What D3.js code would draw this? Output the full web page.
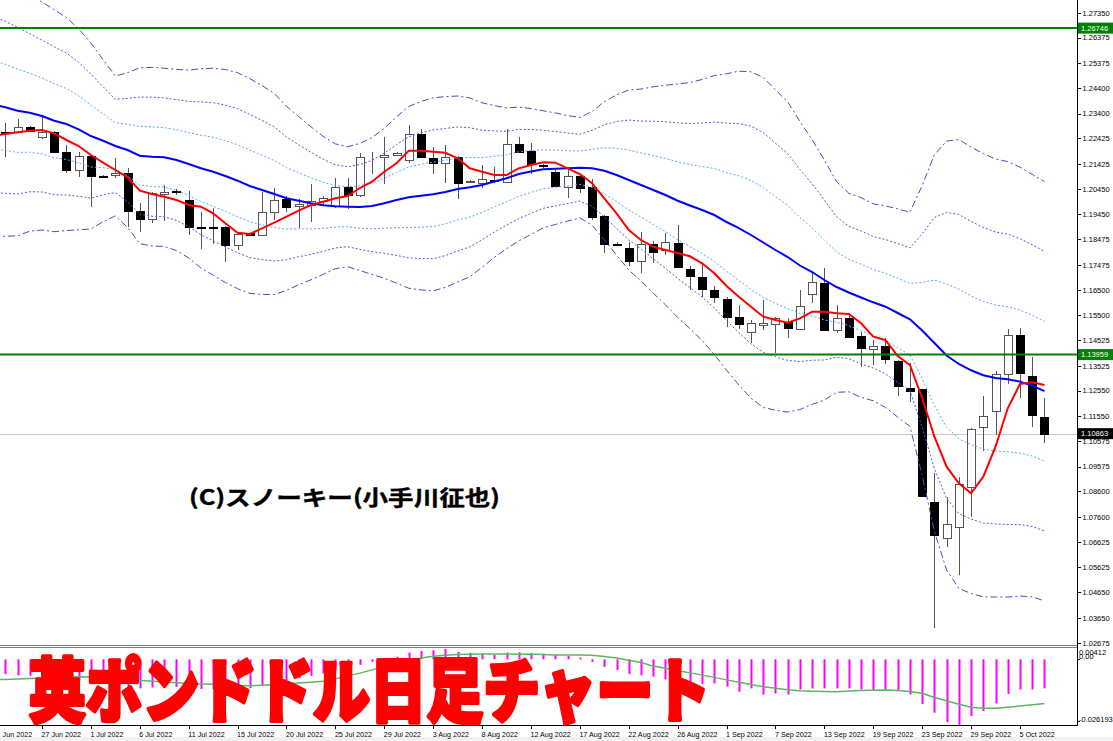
<!DOCTYPE html>
<html><head><meta charset="utf-8">
<script src="https://cdn.jsdelivr.net/npm/d3@7"></script>
<style>
html,body{margin:0;padding:0;background:#fff;overflow:hidden}
svg{display:block}
</style></head><body>
<svg id="c" width="1113" height="741"></svg>
<script>
// ---------- DATA (GBPUSD daily, bars 0..85) ----------
const open = [1.22677,1.22665,1.22861,1.22493,1.22677,1.21894,1.21177,1.21737,1.20954,1.20981,
 1.21060,1.19595,1.19258,1.20261,1.20366,1.20014,1.18956,1.18945,1.18968,1.18240,
 1.18710,1.18643,1.19556,1.20041,1.19779,1.19818,1.19975,1.19779,1.20535,1.20210,
 1.21678,1.21686,1.21776,1.21580,1.22587,1.21671,1.21475,1.21710,1.20707,1.20668,
 1.20817,1.20731,1.22195,1.21921,1.21373,1.21122,1.20535,1.20965,1.20511,1.19387,
 1.18302,1.18122,1.17636,1.18291,1.18075,1.18318,1.17311,1.17010,1.16489,1.16125,
 1.15420,1.14856,1.15106,1.15157,1.15247,1.14973,1.16320,1.16775,1.14922,1.15380,
 1.14699,1.14166,1.14296,1.13720,1.12639,1.12611,1.08174,1.06787,1.07218,1.08785,
 1.11111,1.11762,1.13199,1.14726,1.13121,1.11503];
const high = [1.23030,1.23175,1.22912,1.23343,1.22716,1.22156,1.21906,1.21776,1.20993,1.21647,
 1.21255,1.19908,1.20327,1.20601,1.20433,1.20366,1.19556,1.19689,1.18996,1.18772,
 1.18741,1.20339,1.20472,1.20171,1.20041,1.20641,1.20171,1.20887,1.20864,1.21866,
 1.21906,1.22470,1.21913,1.22951,1.22795,1.22101,1.22168,1.21737,1.20797,1.21385,
 1.21318,1.22783,1.22493,1.22235,1.21443,1.21189,1.21255,1.21032,1.20825,1.19426,
 1.18369,1.18381,1.18772,1.18420,1.18710,1.19035,1.17429,1.17597,1.16646,1.16226,
 1.15890,1.15314,1.16097,1.15420,1.15380,1.16489,1.17143,1.17362,1.15901,1.15576,
 1.14856,1.14530,1.14597,1.13747,1.13618,1.12631,1.09310,1.08393,1.09177,1.11096,
 1.12337,1.13328,1.14950,1.14989,1.13853,1.12247];
const low = [1.21698,1.22638,1.22697,1.22391,1.21843,1.21060,1.20926,1.19751,1.20915,1.20864,
 1.18968,1.18772,1.19101,1.19191,1.20210,1.18643,1.18083,1.18279,1.17597,1.18056,
 1.18604,1.18623,1.19231,1.19556,1.18905,1.19164,1.19818,1.19689,1.19650,1.20120,
 1.21032,1.20641,1.21718,1.21475,1.21678,1.21020,1.20668,1.20041,1.20680,1.20472,
 1.20691,1.20691,1.21843,1.21020,1.21287,1.20511,1.20104,1.20276,1.19231,1.17926,
 1.18212,1.17429,1.17166,1.17558,1.17860,1.17339,1.16489,1.16203,1.15968,1.15028,
 1.14973,1.14425,1.14922,1.14033,1.14621,1.14950,1.15968,1.14895,1.14793,1.14636,
 1.13485,1.13551,1.13591,1.12337,1.12114,1.08370,1.03250,1.06435,1.05327,1.07586,
 1.10195,1.10810,1.12807,1.12247,1.11111,1.10508];
const close = [1.22638,1.22885,1.22728,1.22665,1.21894,1.21177,1.21737,1.20954,1.20934,1.21060,
 1.19595,1.19258,1.20276,1.20339,1.20327,1.18968,1.18929,1.18917,1.18240,1.18682,
 1.18631,1.19556,1.20014,1.19751,1.19845,1.19975,1.20080,1.20535,1.20210,1.21686,
 1.21671,1.21776,1.21843,1.22587,1.21686,1.21475,1.21710,1.20691,1.20770,1.20825,
 1.20758,1.22195,1.21906,1.21412,1.21345,1.20562,1.20965,1.20496,1.19360,1.18291,
 1.18271,1.17636,1.18291,1.17989,1.18357,1.17401,1.17037,1.16528,1.16203,1.15420,
 1.15146,1.15185,1.15185,1.15380,1.14989,1.15862,1.16814,1.14922,1.15380,1.14660,
 1.14229,1.14307,1.13786,1.12729,1.12545,1.08421,1.06893,1.07312,1.08891,1.11045,
 1.11554,1.13199,1.14726,1.13250,1.11593,1.10863];

// indicator series start one bar earlier (bar -1)
const lineStart = -1;
const sma21 = [1.23754,1.23645,1.23511,1.23433,1.23304,1.23120,1.22990,1.22783,1.22520,1.22336,
 1.22129,1.21972,1.21749,1.21710,1.21686,1.21580,1.21424,1.21255,1.21122,1.20954,
 1.20770,1.20562,1.20406,1.20249,1.20080,1.19986,1.19885,1.19806,1.19767,1.19751,
 1.19740,1.19779,1.19885,1.20014,1.20120,1.20182,1.20237,1.20327,1.20445,1.20511,
 1.20601,1.20738,1.20864,1.21032,1.21130,1.21216,1.21240,1.21255,1.21279,1.21255,
 1.21161,1.20993,1.20797,1.20601,1.20406,1.20210,1.19986,1.19798,1.19622,1.19426,
 1.19152,1.18917,1.18643,1.18349,1.18056,1.17781,1.17448,1.17194,1.16881,1.16606,
 1.16391,1.16195,1.16007,1.15835,1.15588,1.15341,1.14903,1.14413,1.13924,1.13591,
 1.13344,1.13152,1.13042,1.12991,1.12901,1.12745,1.12525];
const sma5 = [1.22540,1.22599,1.22665,1.22728,1.22755,1.22626,1.22364,1.22129,1.21776,1.21475,
 1.21189,1.20903,1.20378,1.20249,1.20143,1.20014,1.19818,1.19751,1.19493,1.19101,
 1.18733,1.18682,1.18905,1.19125,1.19360,1.19595,1.19818,1.19947,1.20080,1.20171,
 1.20484,1.20731,1.21122,1.21451,1.21945,1.21945,1.21906,1.21866,1.21647,1.21255,
 1.21122,1.20993,1.20993,1.21255,1.21385,1.21490,1.21475,1.21255,1.21032,1.20668,
 1.20080,1.19493,1.18839,1.18447,1.18185,1.18056,1.17938,1.17809,1.17535,1.17143,
 1.16646,1.16226,1.15835,1.15443,1.15314,1.15208,1.15380,1.15639,1.15639,1.15576,
 1.15549,1.15185,1.14660,1.14530,1.13904,1.13551,1.12259,1.10743,1.09568,1.08918,
 1.08526,1.09177,1.10352,1.11856,1.12807,1.12874,1.12768];
const bandSd = [0.01723,0.01684,0.01633,0.01547,0.01488,0.01449,0.01390,0.01312,0.01214,0.01057,
 0.00913,0.01010,0.01148,0.01167,0.01163,0.01183,0.01226,0.01300,0.01351,0.01390,
 0.01410,0.01402,0.01363,0.01312,0.01202,0.01097,0.00999,0.00901,0.00815,0.00783,
 0.00830,0.00893,0.00979,0.01085,0.01187,0.01230,0.01261,0.01245,0.01214,0.01167,
 0.01073,0.00991,0.00920,0.00873,0.00822,0.00764,0.00728,0.00689,0.00654,0.00744,
 0.00901,0.01046,0.01175,0.01253,0.01347,0.01433,0.01524,0.01606,0.01704,0.01821,
 0.01935,0.02048,0.02131,0.02154,0.02091,0.02025,0.01880,0.01727,0.01567,0.01375,
 0.01296,0.01304,0.01285,0.01316,0.01359,0.01398,0.01892,0.02460,0.02800,0.02930,
 0.02914,0.02894,0.02859,0.02843,0.02800,0.02757,0.02738];
const bandMultipliers = [3, 2, 1];
const macdHist = [-0.0056,-0.0059,-0.0064,-0.0066,-0.0068,-0.0072,-0.0080,-0.0084,-0.0092,-0.0098,
 -0.0101,-0.0110,-0.0116,-0.0112,-0.0111,-0.0110,-0.0115,-0.0118,-0.0119,-0.0122,
 -0.0119,-0.0115,-0.0104,-0.0092,-0.0083,-0.0075,-0.0066,-0.0057,-0.0045,-0.0038,
 -0.0022,-0.0010,0.0002,0.0010,0.0027,0.0033,0.0036,0.00412,0.0030,0.0026,
 0.0023,0.0019,0.0027,0.0028,0.0025,0.0022,0.0017,0.0014,0.0007,-0.0010,
 -0.0030,-0.0043,-0.0059,-0.0064,-0.0069,-0.0080,-0.0093,-0.0093,-0.0099,-0.0096,
 -0.0109,-0.0129,-0.0116,-0.0140,-0.0136,-0.0140,-0.0120,-0.0116,-0.0116,-0.0116,
 -0.0116,-0.0120,-0.0123,-0.0120,-0.0123,-0.0140,-0.0178,-0.0213,-0.0250,-0.026193,
 -0.0226,-0.0206,-0.0176,-0.0138,-0.0120,-0.0120,-0.0116];
const macdSignal = [-0.0081,-0.0080,-0.0078,-0.0076,-0.0074,-0.0071,-0.0070,-0.0069,-0.0070,-0.0072,
 -0.0075,-0.0079,-0.0083,-0.0087,-0.0090,-0.0093,-0.0096,-0.0098,-0.0099,-0.0102,
 -0.0104,-0.0105,-0.0103,-0.0100,-0.0097,-0.0094,-0.0091,-0.0087,-0.0078,-0.0066,
 -0.0055,-0.0042,-0.0030,-0.0018,-0.0006,0.0005,0.0012,0.0016,0.0019,0.0020,
 0.0021,0.0021,0.0021,0.0020,0.0020,0.0019,0.0017,0.0017,0.0017,0.0016,
 0.0011,0.0005,-0.0004,-0.0013,-0.0027,-0.0036,-0.0045,-0.0054,-0.0063,-0.0072,
 -0.0082,-0.0091,-0.0100,-0.0109,-0.0115,-0.0121,-0.0125,-0.0127,-0.0128,-0.0129,
 -0.0126,-0.0124,-0.0123,-0.0122,-0.0124,-0.0128,-0.0135,-0.0152,-0.0165,-0.0179,
 -0.0191,-0.0195,-0.0195,-0.0191,-0.0186,-0.0181,-0.0176];

const yTicks = [1.27350,1.26375,1.25375,1.24400,1.23400,1.22425,1.21425,1.20450,1.19450,1.18475,
 1.17475,1.16500,1.15500,1.14525,1.13525,1.12550,1.11550,1.10575,1.09575,1.08600,
 1.07600,1.06625,1.05625,1.04650,1.03650,1.02675];
const xLabels = ["21 Jun 2022","27 Jun 2022","1 Jul 2022","6 Jul 2022","11 Jul 2022","15 Jul 2022",
 "20 Jul 2022","25 Jul 2022","29 Jul 2022","3 Aug 2022","8 Aug 2022","12 Aug 2022","17 Aug 2022",
 "22 Aug 2022","26 Aug 2022","1 Sep 2022","7 Sep 2022","13 Sep 2022","19 Sep 2022","23 Sep 2022",
 "29 Sep 2022","5 Oct 2022"];
const xLabelBars = [-1,3,7,11,15,19,23,27,31,35,39,43,47,51,55,59,63,67,71,75,79,83];
const levelLines = [1.26746, 1.13959];
const lastPrice = 1.10863;
const macdMax = 0.00412, macdMin = -0.026193;
const macdLabels = ["0.00412", "0.00", "-0.026193"];
const titleText = "英ポンドドル日足チャート";
const creditText = "(C)スノーキー(小手川征也)";

// ---------- LAYOUT ----------
const plotRight = 1077;
const mainTop = 0, mainBottom = 644;
const subTop = 649, subBottom = 725;
const x = d3.scaleLinear().domain([0, 85]).range([5.3, 5.3 + 12.225 * 85]);
const y = d3.scaleLinear().domain([1.02675, 1.27350]).range([642.7, 12.7]);
const ym = d3.scaleLinear().domain([macdMin, macdMax]).range([subBottom, subTop]);
const axisFont = '"Liberation Sans", Arial, sans-serif';

const svg = d3.select('#c');
svg.append('rect').attr('width', 1113).attr('height', 741).attr('fill', '#fff');
svg.append('rect').attr('x', 0).attr('y', 737).attr('width', 1113).attr('height', 4).attr('fill', '#f0f0f0');

const defs = svg.append('defs');
defs.append('clipPath').attr('id', 'clipMain').append('rect')
  .attr('x', 0).attr('y', mainTop).attr('width', plotRight).attr('height', mainBottom - mainTop);
defs.append('clipPath').attr('id', 'clipSub').append('rect')
  .attr('x', 0).attr('y', subTop - 1).attr('width', plotRight).attr('height', subBottom - subTop + 1);

const gMain = svg.append('g').attr('clip-path', 'url(#clipMain)');

// bid line
gMain.append('line').attr('x1', 0).attr('x2', plotRight)
  .attr('y1', Math.round(y(lastPrice)) + 0.5).attr('y2', Math.round(y(lastPrice)) + 0.5)
  .attr('stroke', '#c8c8c8').attr('stroke-width', 1);

// candles
const candles = open.map((o, i) => ({ i, o, h: high[i], l: low[i], c: close[i] }));
const gC = gMain.append('g').attr('shape-rendering', 'crispEdges');
gC.selectAll('line.wick').data(candles).join('line').attr('class', 'wick')
  .attr('x1', d => Math.round(x(d.i)) + 0.5).attr('x2', d => Math.round(x(d.i)) + 0.5)
  .attr('y1', d => y(d.h)).attr('y2', d => y(d.l))
  .attr('stroke', '#555').attr('stroke-width', 1);
gC.selectAll('rect.body').data(candles).join('rect').attr('class', 'body')
  .attr('x', d => Math.round(x(d.i)) - 3.5)
  .attr('width', 8)
  .attr('y', d => Math.round(y(Math.max(d.o, d.c))) + 0.5)
  .attr('height', d => Math.max(0, Math.round(y(Math.min(d.o, d.c))) - Math.round(y(Math.max(d.o, d.c)))))
  .attr('fill', d => d.c >= d.o ? '#fff' : '#000')
  .attr('stroke', d => d.c >= d.o ? '#555' : '#000')
  .attr('stroke-width', 1);

// bands & moving averages
const idx = arr => arr.map((v, j) => ({ i: j + lineStart, v }));
const lineGen = d3.line().x(d => x(d.i)).y(d => y(d.v));
const bandStyle = {
  3: { color: '#4a4ac8', dash: '7,3,2,3' },
  2: { color: '#5555e6', dash: '2,2' },
  1: { color: '#5aa9ff', dash: '2,2' }
};
bandMultipliers.forEach(m => {
  [1, -1].forEach(sign => {
    const pts = sma21.map((mid, j) => ({ i: j + lineStart, v: mid + sign * m * bandSd[j] }));
    gMain.append('path').attr('d', lineGen(pts)).attr('fill', 'none')
      .attr('stroke', bandStyle[m].color).attr('stroke-width', 1)
      .attr('stroke-dasharray', bandStyle[m].dash);
  });
});
gMain.append('path').attr('d', lineGen(idx(sma21))).attr('fill', 'none')
  .attr('stroke', '#0000ff').attr('stroke-width', 2);
gMain.append('path').attr('d', lineGen(idx(sma5))).attr('fill', 'none')
  .attr('stroke', '#ff0000').attr('stroke-width', 2);

// horizontal level lines
levelLines.forEach(v => {
  svg.append('line').attr('x1', 0).attr('x2', plotRight).attr('y1', y(v)).attr('y2', y(v))
    .attr('stroke', '#008000').attr('stroke-width', 2);
});

// ---------- SUB WINDOW (MACD) ----------
const gSub = svg.append('g').attr('clip-path', 'url(#clipSub)');
const hist = idx(macdHist);
gSub.selectAll('line.h').data(hist).join('line').attr('class', 'h')
  .attr('x1', d => Math.round(x(d.i)) + 0.5).attr('x2', d => Math.round(x(d.i)) + 0.5)
  .attr('y1', ym(0)).attr('y2', d => ym(d.v))
  .attr('stroke', '#ff00ff').attr('stroke-width', 2);
const lineM = d3.line().x(d => x(d.i)).y(d => ym(d.v));
gSub.append('path').attr('d', lineM(idx(macdSignal))).attr('fill', 'none')
  .attr('stroke', '#5fb45f').attr('stroke-width', 1.5);

// ---------- FRAMES & AXES ----------
const frame = svg.append('g').attr('shape-rendering', 'crispEdges');
frame.append('line').attr('x1', 0).attr('x2', plotRight).attr('y1', 645.5).attr('y2', 645.5).attr('stroke', '#808080').attr('stroke-width', 1.5);
frame.append('line').attr('x1', 0).attr('x2', plotRight).attr('y1', 647.5).attr('y2', 647.5).attr('stroke', '#808080').attr('stroke-width', 1.5);
frame.append('line').attr('x1', 0).attr('x2', plotRight + 1).attr('y1', subBottom + 0.5).attr('y2', subBottom + 0.5).attr('stroke', '#000');
frame.append('line').attr('x1', plotRight + 0.5).attr('x2', plotRight + 0.5).attr('y1', 0).attr('y2', subBottom + 1).attr('stroke', '#000');

// right price axis
const yAxis = d3.axisRight(y).tickValues(yTicks).tickFormat(d3.format('.5f')).tickSize(3).tickSizeOuter(0).tickPadding(2);
const gy = svg.append('g').attr('transform', `translate(${plotRight + 0.5},0)`).call(yAxis);
gy.select('.domain').remove();
gy.selectAll('line').attr('stroke', '#000').attr('shape-rendering', 'crispEdges');
gy.selectAll('text').attr('font-family', axisFont).attr('font-size', 7.5).attr('fill', '#000');

// price tags
const tags = [
  { v: levelLines[0], bg: '#008000' },
  { v: levelLines[1], bg: '#008000' },
  { v: lastPrice, bg: '#000000' }
];
tags.forEach(t => {
  const cy = y(t.v);
  svg.append('rect').attr('x', plotRight + 1).attr('y', cy - 5.5).attr('width', 35).attr('height', 11).attr('fill', t.bg);
  svg.append('text').attr('x', plotRight + 4).attr('y', cy).attr('dy', '0.35em')
    .attr('font-family', axisFont).attr('font-size', 7.5).attr('fill', '#fff').text(d3.format('.5f')(t.v));
});

// MACD scale labels
const macdLabelY = [654.7, 658.6, 722];
macdLabels.forEach((s, j) => {
  svg.append('text').attr('x', plotRight + 2).attr('y', macdLabelY[j])
    .attr('font-family', axisFont).attr('font-size', 7.5).attr('fill', '#000').text(s);
});
[ym(0), subBottom - 4].forEach(v => {
  svg.append('line').attr('x1', plotRight).attr('x2', plotRight + 3).attr('y1', Math.round(v) + 0.5).attr('y2', Math.round(v) + 0.5)
    .attr('stroke', '#000').attr('shape-rendering', 'crispEdges');
});

// bottom time axis
const xAxis = d3.axisBottom(x).tickValues(xLabelBars).tickFormat((d, j) => xLabels[j]).tickSize(3).tickSizeOuter(0).tickPadding(3);
const gx = svg.append('g').attr('transform', `translate(0,${subBottom + 0.5})`).call(xAxis);
gx.select('.domain').remove();
gx.selectAll('line').attr('stroke', '#000').attr('shape-rendering', 'crispEdges');
gx.selectAll('text').attr('font-family', axisFont).attr('font-size', 7.2).attr('fill', '#000')
  .attr('text-anchor', 'start').attr('dx', -1);

// ---------- TEXT OVERLAYS ----------
svg.append('text').attr('x', 189).attr('y', 505)
  .attr('font-family', '"Noto Sans CJK JP", sans-serif').attr('font-weight', 700).attr('font-size', 21)
  .attr('fill', '#000').attr('stroke', '#000').attr('stroke-width', 0.4)
  .attr('textLength', 311).attr('lengthAdjust', 'spacingAndGlyphs')
  .text(creditText);

svg.append('text').attr('x', 29).attr('y', 717)
  .attr('font-family', '"Noto Sans CJK JP", sans-serif').attr('font-weight', 900).attr('font-size', 70)
  .attr('fill', '#ff0000').attr('stroke', '#ff0000').attr('stroke-width', 4).attr('stroke-linejoin', 'round')
  .attr('textLength', 681).attr('lengthAdjust', 'spacingAndGlyphs')
  .text(titleText);
</script>
</body></html>
